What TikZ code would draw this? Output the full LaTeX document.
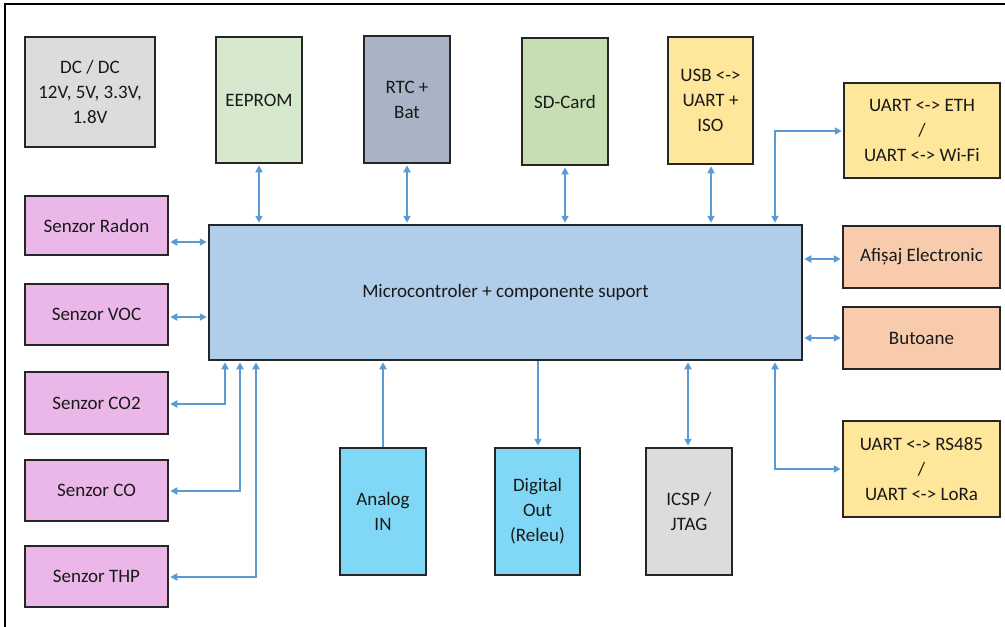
\documentclass[tikz,border=0pt]{standalone}
\usepackage{fontspec}
\setmainfont{Carlito}
\usetikzlibrary{arrows.meta}
\definecolor{abl}{HTML}{5B9BD5}
\definecolor{cgray}{HTML}{DCDCDC}
\definecolor{cgreenA}{HTML}{D6E9CF}
\definecolor{cslate}{HTML}{A8B4C5}
\definecolor{cgreenB}{HTML}{C5DFB3}
\definecolor{cyel}{HTML}{FEE69A}
\definecolor{corg}{HTML}{F7CBAC}
\definecolor{cmcu}{HTML}{B0CDEA}
\definecolor{cpink}{HTML}{EBB7E8}
\definecolor{ccyan}{HTML}{80D7F6}
\tikzset{
  box/.style={draw=black!85, line width=1.5pt, align=center, inner sep=0pt,
    font=\fontsize{19}{25}\selectfont, text=black!90},
  conn/.style={draw=abl, line width=2.2pt, {Triangle[length=7pt,width=7pt]}-{Triangle[length=7pt,width=7pt]}, shorten <=1.5pt, shorten >=1.5pt},
  connin/.style={draw=abl, line width=2.2pt, -{Triangle[length=7pt,width=7pt]}, shorten >=1.5pt},
}
\begin{document}
\begin{tikzpicture}[x=1pt,y=-1pt]
\useasboundingbox (0,0) rectangle (1005,627);
\draw[line width=2.5pt] (5,627) -- (5,4) -- (1005,4);
% top row
\node[box, fill=cgray, minimum width=130pt, minimum height=110pt] (dc) at (90,92) {DC / DC\\12V, 5V, 3.3V,\\1.8V};
\node[box, fill=cgreenA, minimum width=86pt, minimum height=126pt] (eeprom) at (259,100) {EEPROM};
\node[box, fill=cslate, minimum width=86pt, minimum height=127pt] (rtc) at (407,99.5) {RTC +\\Bat};
\node[box, fill=cgreenB, minimum width=86pt, minimum height=127pt] (sd) at (565,101.5) {SD-Card};
\node[box, fill=cyel, minimum width=85pt, minimum height=127pt] (usb) at (710.5,100.5) {USB <->\\UART +\\ISO};
% right column
\node[box, fill=cyel, minimum width=156pt, minimum height=95pt] (eth) at (922,130.5) {UART <-> ETH\\/\\UART <-> Wi-Fi};
\node[box, fill=corg, minimum width=157pt, minimum height=62pt] (afis) at (921.5,257) {Afișaj Electronic};
\node[box, fill=corg, minimum width=157pt, minimum height=62pt] (but) at (921.5,338) {Butoane};
\node[box, fill=cyel, minimum width=157pt, minimum height=96pt] (rs) at (921.5,469) {UART <-> RS485\\/\\UART <-> LoRa};
% MCU
\node[box, fill=cmcu, minimum width=593pt, minimum height=135pt] (mcu) at (505.5,292.5) {Microcontroler + componente suport};
% sensors
\node[box, fill=cpink, minimum width=143pt, minimum height=59pt] (radon) at (96.5,225.5) {Senzor Radon};
\node[box, fill=cpink, minimum width=143pt, minimum height=61pt] (voc) at (96.5,314.5) {Senzor VOC};
\node[box, fill=cpink, minimum width=143pt, minimum height=62pt] (co2) at (96.5,403) {Senzor CO2};
\node[box, fill=cpink, minimum width=143pt, minimum height=61pt] (co) at (96.5,490.5) {Senzor CO};
\node[box, fill=cpink, minimum width=143pt, minimum height=61pt] (thp) at (96.5,576.5) {Senzor THP};
% bottom row
\node[box, fill=ccyan, minimum width=86pt, minimum height=127pt] (ain) at (383,511.5) {Analog\\IN};
\node[box, fill=ccyan, minimum width=85pt, minimum height=127pt] (dout) at (537.5,511.5) {Digital\\Out\\(Releu)};
\node[box, fill=cgray, minimum width=86pt, minimum height=127pt] (icsp) at (689,511.5) {ICSP /\\JTAG};
% top connectors
\draw[conn] (eeprom.south) -- (eeprom.south |- mcu.north);
\draw[conn] (rtc.south) -- (rtc.south |- mcu.north);
\draw[conn] (sd.south) -- (sd.south |- mcu.north);
\coordinate (cu) at (711,190);
\draw[conn] (cu |- usb.south) -- (cu |- mcu.north);
% right connectors
\coordinate (ce) at (775,131);
\draw[conn] (ce |- mcu.north) -- (ce) -- (ce -| eth.west);
\coordinate (ca) at (805,259);
\draw[conn] (ca -| mcu.east) -- (ca -| afis.west);
\coordinate (cb) at (805,338);
\draw[conn] (cb -| mcu.east) -- (cb -| but.west);
\coordinate (cr) at (775,469);
\draw[conn] (cr |- mcu.south) -- (cr) -- (cr -| rs.west);
% left connectors
\coordinate (cra) at (170,242);
\draw[conn] (cra -| radon.east) -- (cra -| mcu.west);
\coordinate (cv) at (170,317);
\draw[conn] (cv -| voc.east) -- (cv -| mcu.west);
\coordinate (c2) at (225,404);
\draw[conn] (c2 |- mcu.south) -- (c2) -- (c2 -| co2.east);
\coordinate (c1) at (240,491);
\draw[conn] (c1 |- mcu.south) -- (c1) -- (c1 -| co.east);
\coordinate (c3) at (256,577);
\draw[conn] (c3 |- mcu.south) -- (c3) -- (c3 -| thp.east);
% bottom connectors
\draw[connin] (ain.north) -- (ain.north |- mcu.south);
\coordinate (cd) at (538,450);
\draw[connin] (cd |- mcu.south) -- (cd |- dout.north);
\coordinate (ci) at (688,450);
\draw[conn] (ci |- icsp.north) -- (ci |- mcu.south);
\end{tikzpicture}
\end{document}
